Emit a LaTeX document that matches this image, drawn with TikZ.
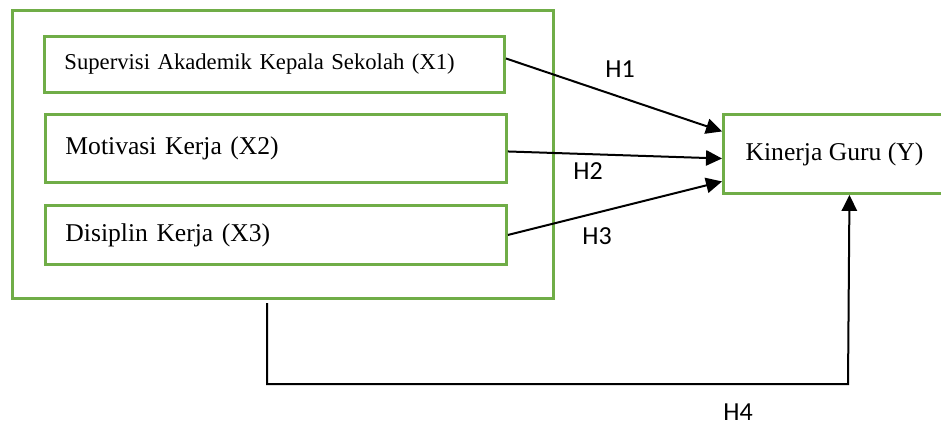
\documentclass[tikz,border=0pt]{standalone}
\usepackage{fontspec}
\setmainfont{Liberation Serif}
\newfontfamily\labelfont{Carlito}
\usetikzlibrary{arrows.meta,calc}
\definecolor{boxgreen}{HTML}{70AD47}
\begin{document}
\begin{tikzpicture}[x=0.75pt,y=-0.75pt,
  gbox/.style={draw=boxgreen, line width=2.2pt, inner ysep=0pt, anchor=north west},
  varbox/.style={gbox, align=left, inner xsep=15pt},
  arr/.style={draw=black, line width=1.5pt, -{Triangle[length=12pt,width=11.5pt]}},
  hlabel/.style={font=\labelfont\fontsize{19.5}{22}\selectfont, anchor=base, inner sep=0pt},
  bigtext/.style={font=\fontsize{19.2}{22}\selectfont}]
\useasboundingbox (0,0) rectangle (941,425);

\node[gbox, minimum width=405.75pt, minimum height=216pt] (outer) at (10.7,9) {};

\node[varbox, minimum width=345pt, minimum height=42pt, text width=315pt,
      font=\fontsize{17}{20}\selectfont] (x1) at (43,35) {Supervisi Akademik Kepala Sekolah (X1)};
\node[varbox, bigtext, minimum width=345.75pt, minimum height=51pt, text width=315.75pt] (x2) at (44,113) {Motivasi Kerja (X2)};
\node[varbox, bigtext, minimum width=345.75pt, minimum height=44.25pt, text width=315.75pt] (x3) at (44,204) {Disiplin Kerja (X3)};

\node[gbox, bigtext, minimum width=166.5pt, minimum height=59.25pt] (y) at (722,113) {Kinerja Guru (Y)};

\draw[arr] ([yshift=4.5pt]x1.east) -- ([yshift=16.9pt]y.west);
\draw[arr] ([yshift=-2.25pt]x2.east) -- ([yshift=-3.4pt]y.west);
\draw[arr] (x3.east) -- ([yshift=-20.6pt]y.west);

\coordinate (h4s) at (267,303);
\coordinate (yb) at ([xshift=11.25pt]y.south);
\coordinate (h4c) at (848,384);
\draw[arr] (h4s) |- (h4c) -- (yb);

\node[hlabel] (h1) at (620,77) {H1};
\node[hlabel] (h2) at (588,179) {H2};
\node[hlabel] (h3) at (597,244) {H3};
\node[hlabel] (h4) at (738,420) {H4};
\end{tikzpicture}
\end{document}
